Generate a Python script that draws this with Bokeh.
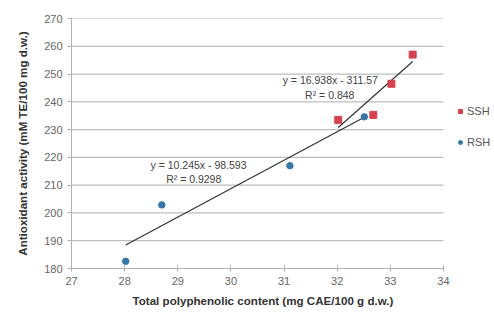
import numpy as np
from bokeh.plotting import figure
from bokeh.models import Range1d, Label, Legend, LegendItem, FixedTicker, Title
from bokeh.embed import file_html
from bokeh.resources import INLINE

# Data
ssh_x = [32.02, 32.68, 33.02, 33.42]
ssh_y = [233.5, 235.3, 246.5, 257.0]
rsh_x = [28.02, 28.70, 31.11, 32.51]
rsh_y = [182.6, 202.9, 217.0, 234.6]
ssh_coef = [16.938, -311.57]
rsh_coef = [10.245, -98.593]
ssh_eq = ["y = 16.938x - 311.57", "R² = 0.848"]
rsh_eq = ["y = 10.245x - 98.593", "R² = 0.9298"]
x_ticks = [27, 28, 29, 30, 31, 32, 33, 34]
y_ticks = [180, 190, 200, 210, 220, 230, 240, 250, 260, 270]
x_title = "Total polyphenolic content (mg CAE/100 g d.w.)"
y_title = "Antioxidant activity (mM TE/100 mg d.w.)"

FONT = "Liberation Sans"
SSH_COL = "#d4434f"
RSH_COL = "#3677a8"

X0, X1 = x_ticks[0], x_ticks[-1]
# frame extends to the right edge to host the legend; plot area itself is 27..34
p = figure(width=494, height=313, output_backend="svg", toolbar_location=None,
           x_range=Range1d(X0, X1 + 0.96), y_range=Range1d(180, 270),
           min_border_left=71, min_border_right=0, min_border_top=18, min_border_bottom=45)
p.outline_line_color = None
p.background_fill_color = "white"
p.border_fill_color = "white"

p.xgrid.grid_line_color = None
p.ygrid.grid_line_color = None
# horizontal gridlines limited to the plot area
p.segment(x0=[X0] * len(y_ticks), x1=[X1] * len(y_ticks), y0=y_ticks, y1=y_ticks,
          line_color="#bdbdbd", line_width=1.2)

p.xaxis.ticker = FixedTicker(ticks=x_ticks)
p.yaxis.ticker = FixedTicker(ticks=y_ticks)
p.xaxis.bounds = (X0, X1)

for ax in (p.xaxis[0], p.yaxis[0]):
    ax.axis_line_color = "#b0b0b0"
    ax.major_tick_line_color = "#b0b0b0"
    ax.minor_tick_line_color = None
    ax.major_label_text_font = FONT
    ax.major_label_text_font_size = "11px"
    ax.major_label_text_color = "#666666"
    ax.axis_label_text_font = FONT
    ax.axis_label_text_font_size = "11.6px"
    ax.axis_label_text_font_style = "bold"
    ax.axis_label_text_color = "#333333"
p.xaxis.major_tick_in = 3
p.xaxis.major_tick_out = 3
p.yaxis.major_tick_in = 0
p.yaxis.major_tick_out = 4
p.yaxis.axis_label = y_title
p.yaxis.axis_label_standoff = 12

# x-axis title centred under the 27..34 plot area
p.add_layout(Title(text=x_title, align="left", offset=61, standoff=8,
                   text_font=FONT, text_font_size="11.6px", text_font_style="bold",
                   text_color="#333333"), "below")

# trend lines
def trend(xs, coef):
    xx = np.array([min(xs), max(xs)])
    return xx, coef[0] * xx + coef[1]

tx, ty = trend(rsh_x, rsh_coef)
p.line(tx, ty, line_color="#333333", line_width=1.2)
tx, ty = trend(ssh_x, ssh_coef)
p.line(tx, ty, line_color="#333333", line_width=1.2)

r_ssh = p.scatter(ssh_x, ssh_y, marker="square", size=7, fill_color=SSH_COL, line_color=SSH_COL)
r_rsh = p.scatter(rsh_x, rsh_y, marker="circle", size=6.5, fill_color=RSH_COL, line_color=RSH_COL)

def lab(x, y, t):
    p.add_layout(Label(x=x, y=y, text=t, text_align="center", text_baseline="middle",
                       text_font=FONT, text_font_size="10.5px", text_color="#444444"))

lab(31.87, 247.7, ssh_eq[0])
lab(31.86, 242.6, ssh_eq[1])
lab(29.39, 217.1, rsh_eq[0])
lab(29.30, 212.4, rsh_eq[1])

legend = Legend(items=[LegendItem(label="SSH", renderers=[r_ssh]),
                       LegendItem(label="RSH", renderers=[r_rsh])],
                location=(384, 116), padding=0, margin=0, spacing=11,
                glyph_width=10, glyph_height=20, label_standoff=2,
                label_text_font=FONT, label_text_font_size="11px",
                label_text_color="#555555", border_line_color=None,
                background_fill_alpha=0)
p.add_layout(legend, "center")

open("out.html", "w").write(file_html(p, INLINE))
